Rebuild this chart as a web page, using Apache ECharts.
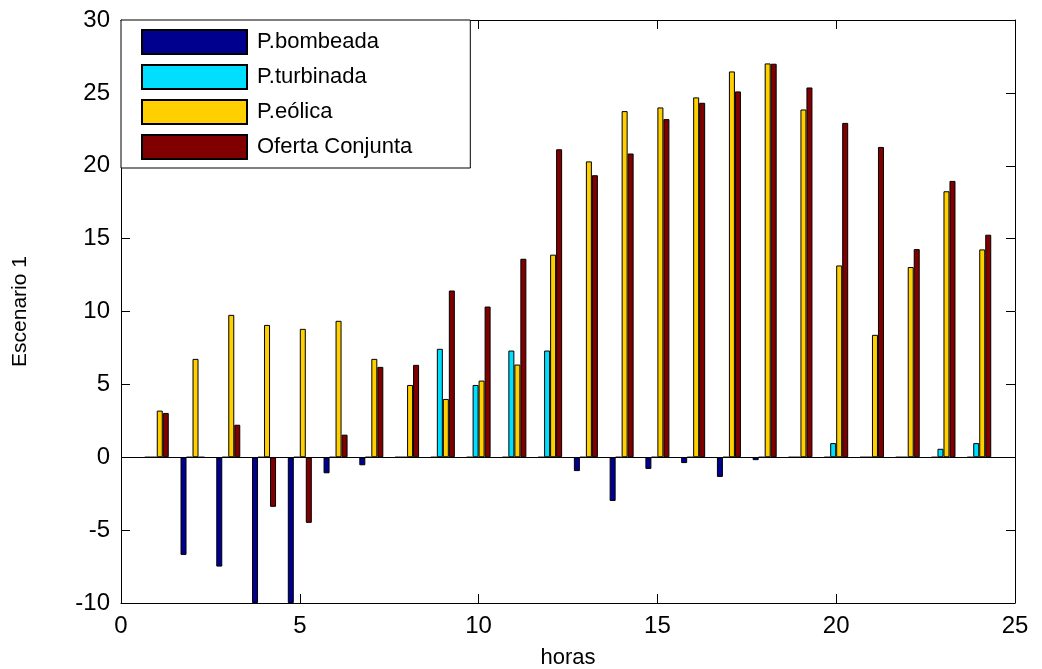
<!DOCTYPE html>
<html>
<head>
<meta charset="utf-8">
<title>Escenario 1</title>
<script src="https://cdn.jsdelivr.net/npm/echarts@6/dist/echarts.min.js"></script>
<style>
  html, body { margin: 0; padding: 0; background: #fff; }
  #chart { width: 1042px; height: 669px; }
</style>
</head>
<body>
<div id="chart"></div>
<script>
// horas 1..24
const horas = [1, 2, 3, 4, 5, 6, 7, 8, 9, 10, 11, 12, 13, 14, 15, 16, 17, 18, 19, 20, 21, 22, 23, 24]
const bombeada = [0, -6.7, -7.5, -10, -10, -1.1, -0.55, 0, 0, 0, 0, 0, -0.95, -3.0, -0.8, -0.4, -1.35, -0.2, 0, 0, 0, 0, 0, 0]
const turbinada = [0, 0, 0, 0, 0, 0, 0, 0, 7.44, 4.96, 7.32, 7.32, 0, 0, 0, 0, 0, 0, 0, 0.97, 0, 0, 0.58, 0.97]
const eolica = [3.2, 6.75, 9.77, 9.08, 8.81, 9.36, 6.75, 4.96, 4.0, 5.26, 6.36, 13.9, 20.3, 23.75, 24.0, 24.69, 26.47, 27.02, 23.86, 13.16, 8.4, 13.05, 18.25, 14.26]
const oferta = [3.04, 0, 2.23, -3.4, -4.5, 1.55, 6.2, 6.34, 11.44, 10.34, 13.62, 21.13, 19.35, 20.84, 23.2, 24.32, 25.1, 27.0, 25.37, 22.94, 21.29, 14.28, 18.96, 15.27]
const xTicks = [0, 25, 5]   // min, max, interval
const yTicks = [-10, 30, 5]

const font = 'Liberation Sans, Arial, Helvetica, sans-serif'

function pairs(vals) {
  return horas.map((h, i) => [h, vals[i]])
}

function barSeries(name, color, vals) {
  return {
    name: name,
    type: 'bar',
    barWidth: 6,
    barGap: '0%',
    itemStyle: { color: color, borderColor: '#000', borderWidth: 1 },
    emphasis: { disabled: true },
    data: pairs(vals)
  }
}

const chart = echarts.init(document.getElementById('chart'))

const baseX = {
  type: 'value',
  min: xTicks[0],
  max: xTicks[1],
  interval: xTicks[2],
  splitLine: { show: false },
  axisLine: { onZero: false, lineStyle: { color: '#000', width: 1 } },
  axisTick: { inside: true, length: 9, lineStyle: { color: '#000' } }
}
const baseY = {
  type: 'value',
  min: yTicks[0],
  max: yTicks[1],
  interval: yTicks[2],
  splitLine: { show: false },
  axisLine: { show: true, onZero: false, lineStyle: { color: '#000', width: 1 } },
  axisTick: { show: true, inside: true, length: 9, lineStyle: { color: '#000' } }
}

const series = [
  barSeries('P.bombeada', '#00008F', bombeada),
  barSeries('P.turbinada', '#00DFFF', turbinada),
  barSeries('P.eólica', '#FFCF00', eolica),
  barSeries('Oferta Conjunta', '#800000', oferta)
]
// linea base en 0
series[0].markLine = {
  silent: true,
  symbol: 'none',
  label: { show: false },
  lineStyle: { color: '#000', width: 1, type: 'solid' },
  data: [{ yAxis: 0 }],
  z: 1
}

chart.setOption({
  animation: false,
  backgroundColor: '#fff',
  grid: { left: 121, right: 27, top: 20, bottom: 66, outerBoundsMode: 'none', containLabel: false },
  legend: {
    orient: 'vertical',
    left: 121,
    top: 20,
    itemWidth: 105,
    itemHeight: 24,
    itemGap: 9,
    padding: [9, 58, 8, 20],
    backgroundColor: '#fff',
    borderColor: '#000',
    borderWidth: 1,
    icon: 'rect',
    textStyle: { fontFamily: font, fontSize: 22, lineHeight: 24, color: '#000', padding: [0, 0, 0, 5] },
    data: ['P.bombeada', 'P.turbinada', 'P.eólica', 'Oferta Conjunta'],
    z: 10
  },
  xAxis: [
    Object.assign({}, baseX, {
      position: 'bottom',
      name: 'horas',
      nameLocation: 'middle',
      nameGap: 44,
      nameTextStyle: { fontFamily: font, fontSize: 22, color: '#000' },
      axisLabel: { fontFamily: font, fontSize: 24, color: '#000', margin: 11 }
    }),
    Object.assign({}, baseX, { position: 'top', axisLabel: { show: false } })
  ],
  yAxis: [
    Object.assign({}, baseY, {
      position: 'left',
      name: 'Escenario 1',
      nameLocation: 'middle',
      nameGap: 90,
      nameTextStyle: { fontFamily: font, fontSize: 21, color: '#000' },
      axisLabel: { fontFamily: font, fontSize: 24, color: '#000', margin: 11 }
    }),
    Object.assign({}, baseY, { position: 'right', axisLabel: { show: false } })
  ],
  series: series
})
</script>
</body>
</html>
